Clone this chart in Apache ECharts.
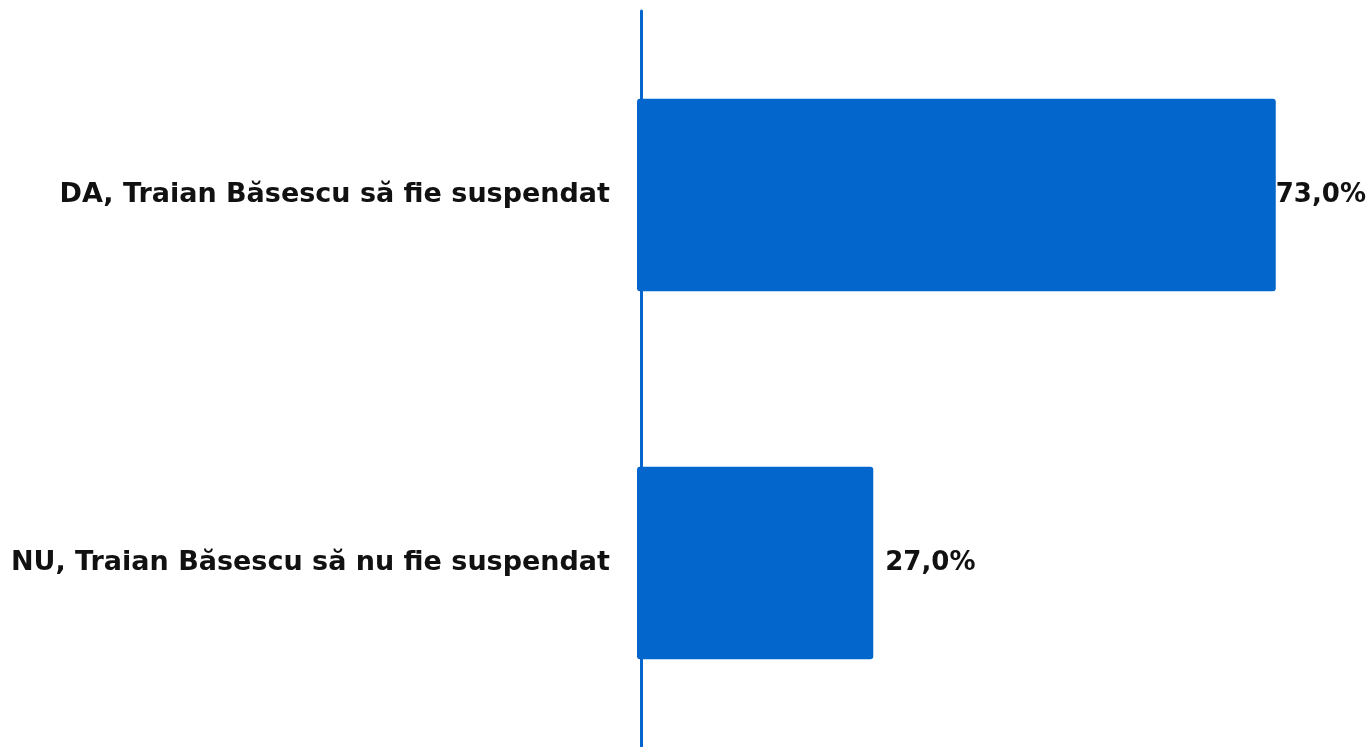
<!DOCTYPE html>
<html>
<head>
<meta charset="utf-8">
<script src="https://cdn.jsdelivr.net/npm/echarts@6/dist/echarts.min.js"></script>
<style>
  html, body { margin: 0; padding: 0; background: #fff; }
  #chart { width: 1370px; height: 747px; }
</style>
</head>
<body>
<div id="chart"></div>
<script>
const categories = ['DA, Traian Băsescu să fie suspendat', 'NU, Traian Băsescu să nu fie suspendat']
const values = [73.0, 27.0]
const labelGaps = [0, 12]

const chart = echarts.init(document.getElementById('chart'))
chart.setOption({
  animation: false,
  grid: { left: 637, right: 33, top: 11, bottom: 0 },
  xAxis: {
    type: 'value', min: 0, max: 80,
    show: false
  },
  yAxis: {
    type: 'category',
    data: categories,
    inverse: true,
    offset: -4,
    axisLine: { show: true, lineStyle: { color: '#0366CC', width: 3 } },
    axisTick: { show: false },
    axisLabel: {
      margin: 31,
      fontFamily: 'DejaVu Sans',
      fontWeight: 'bold',
      fontSize: 27,
      color: '#111'
    }
  },
  series: [{
    type: 'bar',
    barWidth: '52.3%',
    z: 1,
    itemStyle: { color: '#0366CC', borderRadius: 3 },
    data: values.map((v, i) => ({
      value: v,
      label: { distance: labelGaps[i] }
    })),
    label: {
      show: true,
      position: 'right',
      fontFamily: 'DejaVu Sans',
      fontWeight: 'bold',
      fontSize: 26,
      color: '#111',
      formatter: p => p.value.toFixed(1).replace('.', ',') + '%'
    }
  }]
})
</script>
</body>
</html>
